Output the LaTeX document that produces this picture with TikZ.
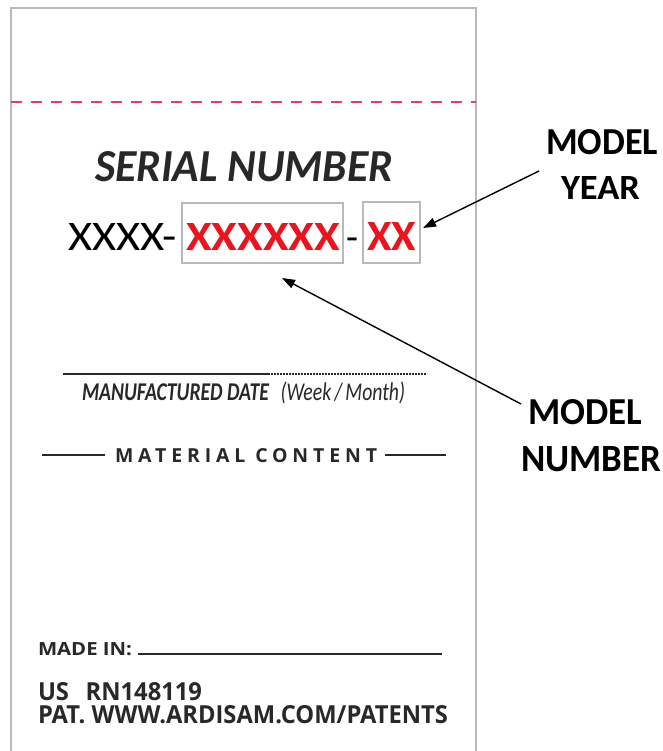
\documentclass[tikz,border=0pt]{standalone}
\usepackage{fontspec}
\usepackage{graphicx}
\setmainfont{Carlito}
\newfontfamily\osans{Open Sans}
\newfontfamily\ospaced[LetterSpace=25]{Open Sans}
\usetikzlibrary{arrows.meta}
\definecolor{labelgray}{RGB}{185,185,185}
\definecolor{cutpink}{RGB}{228,55,125}
\definecolor{serialred}{RGB}{235,20,30}
\definecolor{inkgray}{RGB}{40,40,40}
\tikzset{
  txt/.style={inner sep=0pt, outer sep=0pt, anchor=base west},
  txtc/.style={inner sep=0pt, outer sep=0pt, anchor=base},
  fieldbox/.style={draw=labelgray, line width=1.8pt, inner sep=0pt},
  callarrow/.style={line width=1.4pt, -{Triangle[length=13pt,width=9pt]}},
  rule/.style={line width=1.5pt, inkgray},
}
\begin{document}
\begin{tikzpicture}[x=1pt,y=-1pt]
\useasboundingbox (0,0) rectangle (662,751);
\fill[white] (0,0) rectangle (662,751);
% label outline
\draw[labelgray, line width=1.2pt] (11,770) -- (11,8) -- (476,8) -- (476,770);
% cut line
\draw[cutpink, line width=2.2pt, dash pattern=on 11pt off 9pt] (11,102) -- (476,102);
% serial heading
\node[txt, inkgray] (serial) at (95,182) {\resizebox{298pt}{30pt}{\bfseries\itshape SERIAL NUMBER}};
% serial fields
\node[fieldbox, minimum width=161pt, minimum height=60pt] (box1) at (262.5,233) {};
\node[fieldbox, minimum width=57pt, minimum height=61pt] (box2) at (391.5,232.5) {};
\node[txt] (prefix) at (68,250) {\resizebox{109pt}{27pt}{XXXX-}};
\node[txt, serialred] (model) at (186,250) {\resizebox{154pt}{27pt}{\bfseries XXXXXX}};
\node[txt] (dash2) at (346,250) {\resizebox{12pt}{!}{\fontsize{40}{40}\selectfont -}};
\node[txt, serialred] (year) at (367,250) {\resizebox{49pt}{28pt}{\bfseries XX}};
% callouts
\node[txt] (my1) at (546,155) {\resizebox{112pt}{25pt}{\bfseries MODEL}};
\node[txt] (my2) at (561,200) {\resizebox{79pt}{23pt}{\bfseries YEAR}};
\node[txt] (mn1) at (528,424) {\resizebox{114pt}{25pt}{\bfseries MODEL}};
\node[txt] (mn2) at (521,471) {\resizebox{140pt}{25pt}{\bfseries NUMBER}};
\coordinate (yearfrom) at (539,171);
\coordinate (yeartip) at (423,228);
\coordinate (numfrom) at (521,404);
\coordinate (numtip) at (282,278);
\draw[callarrow] (yearfrom) -- (yeartip);
\draw[callarrow] (numfrom) -- (numtip);
% manufactured date
\coordinate (md1) at (63,374);
\coordinate (md2) at (268,374);
\coordinate (md3) at (427,374);
\draw[rule] (md1) -- (md2);
\draw[inkgray, line width=1.5pt, dash pattern=on 1.6pt off 1.4pt] (md2) -- (md3);
\node[txt, inkgray] (mfg) at (82,400) {\resizebox{323pt}{!}{\scalebox{0.77}[1]{\fontsize{20.6}{22}\selectfont\bfseries\itshape MANUFACTURED DATE\hspace{0.6em}\mdseries(Week\,/\,Month)}}};
% material content
\node[txt, inkgray] (mat) at (115,462) {\resizebox{262pt}{14pt}{\ospaced\bfseries MATERIAL CONTENT}};
\coordinate (ml1) at (42,455);
\coordinate (ml2) at (105,455);
\coordinate (mr1) at (385,455);
\coordinate (mr2) at (446,455);
\draw[rule] (ml1) -- (ml2);
\draw[rule] (mr1) -- (mr2);
% bottom
\node[txt, inkgray] (made) at (38,655) {\resizebox{94pt}{13pt}{\osans\bfseries MADE IN:}};
\coordinate (mi1) at (138,654);
\coordinate (mi2) at (442,654);
\draw[rule] (mi1) -- (mi2);
\node[txt, inkgray] (rn) at (38,700) {\resizebox{164pt}{18pt}{\osans\bfseries US\hspace{0.7em}RN148119}};
\node[txt, inkgray] (pat) at (38,723) {\resizebox{410pt}{18pt}{\osans\bfseries PAT. WWW.ARDISAM.COM/PATENTS}};
\end{tikzpicture}
\end{document}
